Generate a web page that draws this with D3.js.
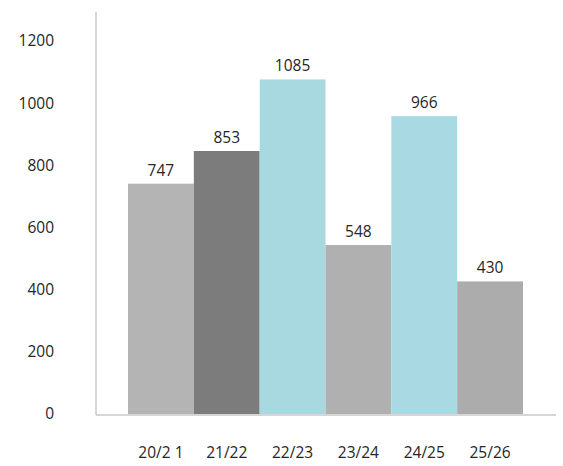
<!DOCTYPE html>
<html>
<head>
<meta charset="utf-8">
<script src="https://cdn.jsdelivr.net/npm/d3@7"></script>
<style>
body { margin: 0; background: #fff; }
text { font-family: "Open Sans", "DejaVu Sans", sans-serif; fill: #262626; }
</style>
</head>
<body>
<svg></svg>
<script>
// Data
var categories = ["20/2 1", "21/22", "22/23", "23/24", "24/25", "25/26"];
var values = [747, 853, 1085, 548, 966, 430];
var colors = ["#b4b4b4", "#7c7c7c", "#a8d9e1", "#b0b0b0", "#a9dae3", "#acacac"];
var yTicks = [0, 200, 400, 600, 800, 1000, 1200];

var width = 563;
var height = 466;

var svg = d3.select("svg")
    .attr("width", width)
    .attr("height", height);

// Scales
var xScale = d3.scaleBand()
    .domain(categories)
    .range([128, 523])
    .padding(0);

var yScale = d3.scaleLinear()
    .domain([0, 1200])
    .range([414, 44]);

// Axis lines
svg.append("line")
    .attr("x1", 96).attr("x2", 96)
    .attr("y1", 12).attr("y2", 415)
    .attr("stroke", "#c8c8c8")
    .attr("stroke-width", 1.5);

svg.append("line")
    .attr("x1", 96).attr("x2", 556)
    .attr("y1", 415).attr("y2", 415)
    .attr("stroke", "#c8c8c8")
    .attr("stroke-width", 1.5);

// Y tick labels (label centres sit slightly above the value line)
svg.selectAll(".ytick")
    .data(yTicks)
    .enter().append("text")
    .attr("class", "ytick")
    .attr("x", 54)
    .attr("y", d => yScale(d) - d / 1200 * 3)
    .attr("dy", "0.35em")
    .attr("text-anchor", "end")
    .attr("font-size", 15.5)
    .text(d => d);

// Bars
svg.selectAll(".bar")
    .data(values)
    .enter().append("rect")
    .attr("class", "bar")
    .attr("x", (d, i) => xScale(categories[i]))
    .attr("width", xScale.bandwidth())
    .attr("y", d => yScale(d))
    .attr("height", d => yScale(0) - yScale(d))
    .attr("fill", (d, i) => colors[i]);

// Value labels
svg.selectAll(".val")
    .data(values)
    .enter().append("text")
    .attr("class", "val")
    .attr("x", (d, i) => xScale(categories[i]) + xScale.bandwidth() / 2)
    .attr("y", d => yScale(d) - 8)
    .attr("text-anchor", "middle")
    .attr("font-size", 15.5)
    .text(d => d);

// X labels
svg.selectAll(".xlab")
    .data(categories)
    .enter().append("text")
    .attr("class", "xlab")
    .attr("x", d => xScale(d) + xScale.bandwidth() / 2)
    .attr("y", 458)
    .attr("text-anchor", "middle")
    .attr("font-size", 15.5)
    .text(d => d);
</script>
</body>
</html>
